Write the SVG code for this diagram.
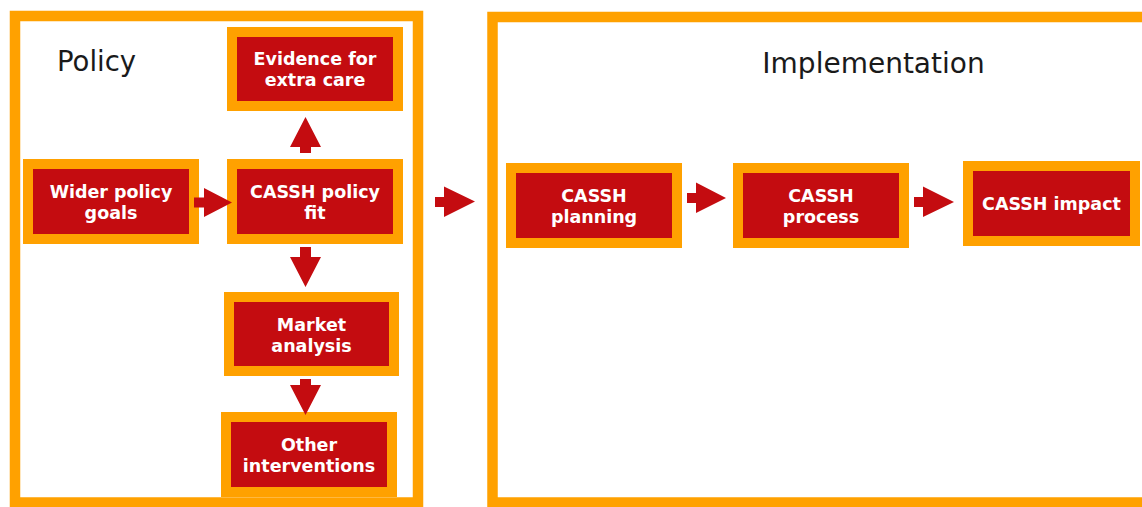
<svg xmlns="http://www.w3.org/2000/svg" width="1142" height="507" viewBox="0 0 1142 507">
  <style>
    .frame { fill: #ffffff; stroke: #ffa100; stroke-width: 10.5; }
    .box { fill: #c40c10; stroke: #ffa100; stroke-width: 10; }
    .title { font-family: Verdana, "DejaVu Sans", sans-serif; font-size: 27.5px; fill: #1a1a1a; }
    .label { font-family: Verdana, "DejaVu Sans", sans-serif; font-size: 17.5px; font-weight: bold; fill: #ffffff; text-anchor: middle; }
    .arrow { fill: #c40c10; }
  </style>
  <rect width="1142" height="507" fill="#ffffff"/>

  <!-- section frames -->
  <g id="policy-frame">
    <rect class="frame" x="15" y="16" width="403" height="486.5"/>
    <text class="title" x="57" y="71">Policy</text>
  </g>
  <g id="implementation-frame">
    <rect class="frame" x="492.5" y="17" width="700" height="485.5"/>
    <text class="title" x="873.5" y="73" text-anchor="middle" style="font-size:28px">Implementation</text>
  </g>

  <!-- policy nodes -->
  <g id="evidence">
    <rect class="box" x="232" y="32" width="166" height="74"/>
    <text class="label" x="315" y="65">Evidence for</text>
    <text class="label" x="315" y="86">extra care</text>
  </g>
  <g id="wider-goals">
    <rect class="box" x="28" y="164" width="166" height="75"/>
    <text class="label" x="111" y="198">Wider policy</text>
    <text class="label" x="111" y="219">goals</text>
  </g>
  <g id="policy-fit">
    <rect class="box" x="232" y="164" width="166" height="75"/>
    <text class="label" x="315" y="198">CASSH policy</text>
    <text class="label" x="315" y="219">fit</text>
  </g>
  <g id="market">
    <rect class="box" x="229" y="297" width="165" height="74"/>
    <text class="label" x="311.5" y="331">Market</text>
    <text class="label" x="311.5" y="352">analysis</text>
  </g>
  <g id="other">
    <rect class="box" x="226" y="417" width="166" height="75"/>
    <text class="label" x="309" y="450.5">Other</text>
    <text class="label" x="309" y="471.5">interventions</text>
  </g>

  <!-- implementation nodes -->
  <g id="planning">
    <rect class="box" x="511" y="168" width="166" height="75"/>
    <text class="label" x="594" y="201.5">CASSH</text>
    <text class="label" x="594" y="222.5">planning</text>
  </g>
  <g id="process">
    <rect class="box" x="738" y="168" width="166" height="75"/>
    <text class="label" x="821" y="201.5">CASSH</text>
    <text class="label" x="821" y="222.5">process</text>
  </g>
  <g id="impact">
    <rect class="box" x="968" y="166" width="167" height="75"/>
    <text class="label" x="1051.5" y="210">CASSH impact</text>
  </g>

  <!-- block arrows -->
  <g id="connectors">
    <polygon class="arrow" points="194,197.5 204,197.5 204,188 232,202.5 204,217 204,207.5 194,207.5"/>
    <polygon class="arrow" points="300,153 300,147 290,147 305.5,117 321,147 311,147 311,153"/>
    <polygon class="arrow" points="300,247 311,247 311,257 321,257 305.5,287 290,257 300,257"/>
    <polygon class="arrow" points="300,379 311,379 311,385 321,385 305.5,415 290,385 300,385"/>
    <polygon class="arrow" points="435,197 444,197 444,186.5 475,201.5 444,217 444,207 435,207"/>
    <polygon class="arrow" points="687,193 696,193 696,182.5 726,198 696,213 696,203 687,203"/>
    <polygon class="arrow" points="914,197 923,197 923,186.5 954,202 923,217 923,207 914,207"/>
  </g>
</svg>
